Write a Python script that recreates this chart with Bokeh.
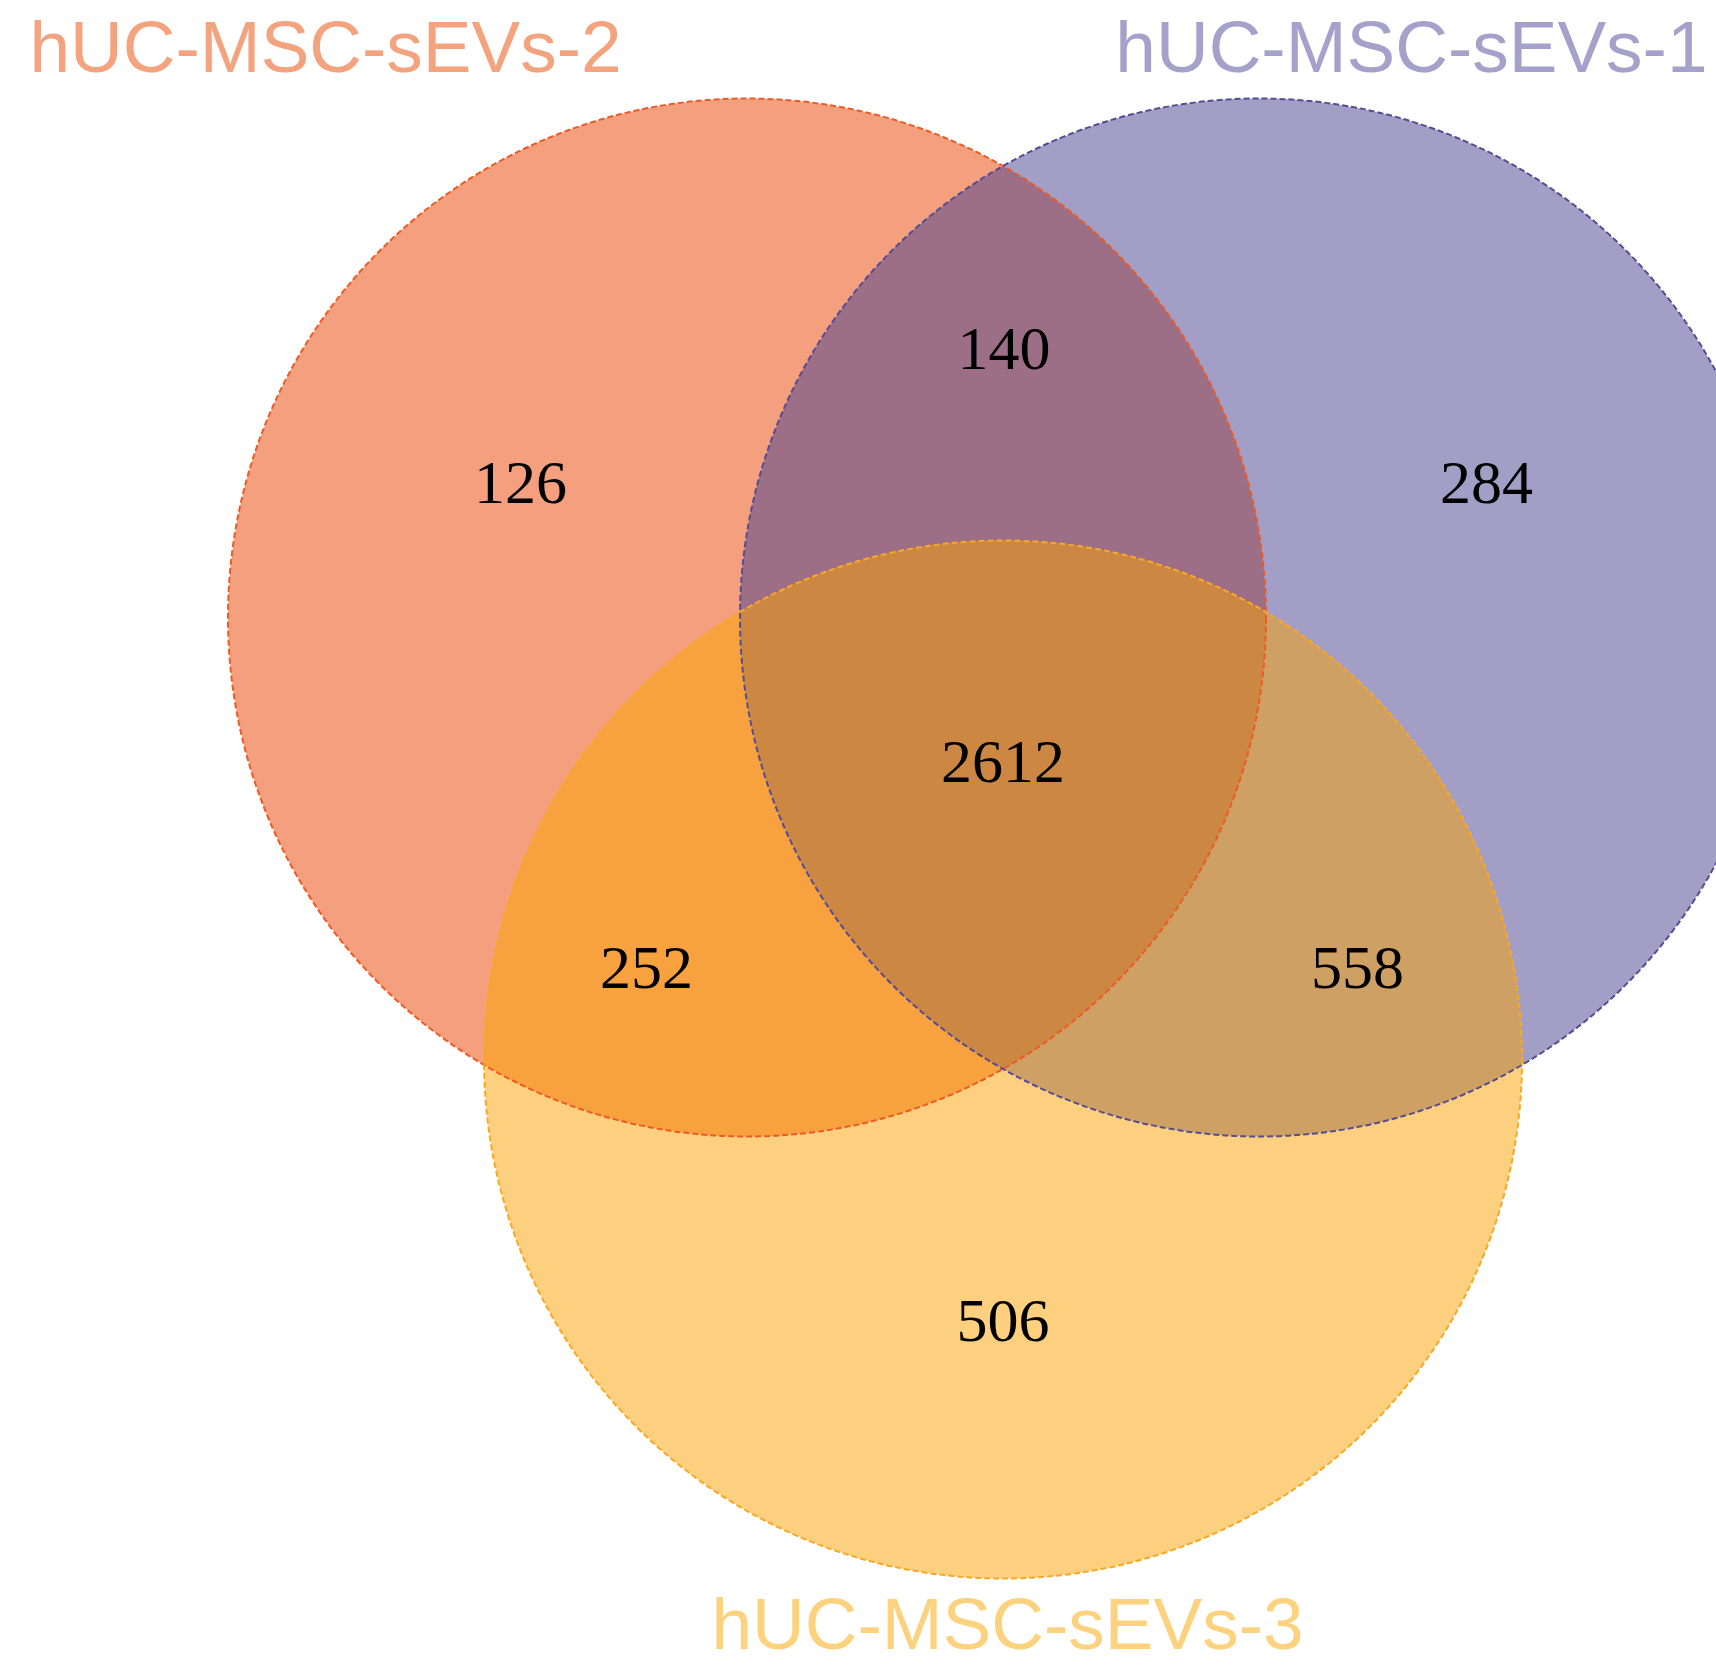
from bokeh.plotting import figure
from bokeh.models import Range1d, ColumnDataSource
from bokeh.core.properties import value
from bokeh.embed import file_html
from bokeh.resources import INLINE

# ---- data ----
set_names = ["hUC-MSC-sEVs-2", "hUC-MSC-sEVs-1", "hUC-MSC-sEVs-3"]
region_labels = ["only 2", "2 & 1", "only 1", "all", "2 & 3", "1 & 3", "only 3"]
region_counts = [126, 140, 284, 2612, 252, 558, 506]

# ---- layout / style ----
fill_colors = ["#E94100", "#453D8D", "#FBA100"]
line_colors = ["#EE5A22", "#554C96", "#F9A823"]
name_colors = ["#F4A37F", "#A6A1CB", "#FDD27F"]
cx = [746.5, 1258.5, 1002.5]
cy = [617, 617, 1059]
R = 519
name_x = [29, 1707, 1007]
name_y = [46, 46, 1623]
name_align = ["left", "right", "center"]
num_x = [520, 1003.5, 1486, 1002.5, 646, 1357, 1002.5]
num_y = [482, 348, 482, 761, 967, 967, 1320]

W, H = 1716, 1666
p = figure(width=W, height=H, output_backend="svg", toolbar_location=None,
           x_range=Range1d(0, W), y_range=Range1d(H, 0),
           min_border=0, outline_line_color=None)
p.axis.visible = False
p.grid.visible = False

circ = ColumnDataSource(dict(x=cx, y=cy, fill=fill_colors, line=line_colors))
p.circle(x="x", y="y", radius=R, source=circ, fill_color="fill",
         fill_alpha=0.5, line_color=None)
p.circle(x="x", y="y", radius=R, source=circ, fill_color=None,
         line_color="line", line_width=2, line_dash="6 3")

nums = ColumnDataSource(dict(x=num_x, y=num_y, t=[str(c) for c in region_counts]))
p.text(x="x", y="y", text="t", source=nums, text_font=value("Liberation Serif"),
       text_font_size="62px", text_align="center", text_baseline="middle",
       text_color="#000000")

for i in range(3):
    p.text(x=[name_x[i]], y=[name_y[i]], text=[set_names[i]],
           text_font=value("Liberation Sans"), text_font_size="73px",
           text_align=name_align[i], text_baseline="alphabetic",
           text_color=name_colors[i])

open("out.html", "w").write(file_html(p, INLINE))
